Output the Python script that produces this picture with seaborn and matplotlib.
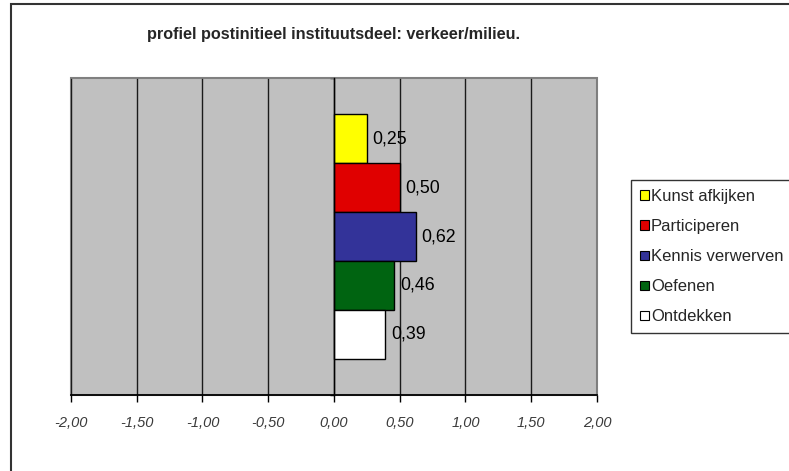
import matplotlib
matplotlib.use("Agg")
import matplotlib.pyplot as plt
from matplotlib.patches import Rectangle, Patch
import pandas as pd
import seaborn as sns

# Profiel-scores per leeractiviteit
reeksen = ["Kunst afkijken", "Participeren", "Kennis verwerven", "Oefenen", "Ontdekken"]
waarden = [0.25, 0.50, 0.62, 0.46, 0.39]
kleuren = ["#FFFF00", "#E00000", "#333399", "#006411", "#FFFFFF"]
x_ticks = [-2.0, -1.5, -1.0, -0.5, 0.0, 0.5, 1.0, 1.5, 2.0]
titel = "profiel postinitieel instituutsdeel: verkeer/milieu."

df = pd.DataFrame({"categorie": [""] * len(reeksen), "reeks": reeksen, "waarde": waarden})

sns.set_theme(style="white")
plt.rcParams["font.family"] = ["Liberation Sans", "DejaVu Sans"]

fig = plt.figure(figsize=(7.89, 4.71), dpi=100)
ax = fig.add_axes([71 / 789, 1 - 395 / 471, (597 - 71) / 789, (395 - 78) / 471])
ax.set_facecolor("#C0C0C0")

sns.barplot(data=df, x="waarde", y="categorie", hue="reeks", hue_order=reeksen,
            palette=dict(zip(reeksen, kleuren)), orient="h", dodge=True,
            width=0.77, edgecolor="black", linewidth=1.0, saturation=1,
            errorbar=None, ax=ax, zorder=3)

ax.set_xlim(-2, 2)
ax.set_ylim(0.5, -0.5)
ax.set_xticks(x_ticks)
ax.set_xticklabels([f"{t:.2f}".replace(".", ",") for t in x_ticks],
                   fontstyle="italic", fontsize=10.5, color="#3a3a3a")
ax.tick_params(axis="x", direction="out", length=5, width=1, color="black",
               bottom=True, pad=10)
ax.set_xlabel("")
ax.set_ylabel("")

# verticale rasterlijnen
for t in x_ticks:
    ax.axvline(t, color="#1a1a1a", lw=1, zorder=1)

# categorie-as op x = 0
ax.spines["left"].set_position(("data", 0))
ax.spines["left"].set_color("black")
ax.spines["left"].set_linewidth(1)
ax.spines["left"].set_zorder(4)
ax.set_yticks([-0.5, 0.5])
ax.set_yticklabels(["", ""])
ax.tick_params(axis="y", direction="out", length=3, width=1, color="black", left=True)
for s in ["top", "right"]:
    ax.spines[s].set_color("#808080")
ax.spines["bottom"].set_color("black")
ax.add_patch(Rectangle((0, 0), 1, 1, transform=ax.transAxes, fill=False,
                       edgecolor="#808080", lw=1.5, zorder=0.5, clip_on=False))

# waardelabels
for cont in ax.containers:
    ax.bar_label(cont, labels=[f"{v:.2f}".replace(".", ",") for v in cont.datavalues],
                 padding=4, fontsize=12.8, color="black")

# legenda
handles = [Patch(facecolor=c, edgecolor="black", linewidth=0.8) for c in kleuren]
ax.legend_.remove()
leg = fig.legend(handles, reeksen, loc="upper left",
                 bbox_to_anchor=(631 / 789, 1 - 180 / 471),
                 frameon=True, fancybox=False, edgecolor="black",
                 fontsize=12, handlelength=0.5, handleheight=0.5,
                 handletextpad=0.15, labelspacing=0.9, borderpad=0.55,
                 borderaxespad=0)
leg.get_frame().set_linewidth(1)

fig.text(334 / 789, 1 - 35 / 471, titel, ha="center", va="center",
         fontsize=11.7, fontweight="bold")

# kader rond de grafiek
fig.patches.append(Rectangle((11 / 789, -0.1), 1.2, 1.1 - 4 / 471,
                             transform=fig.transFigure, fill=False,
                             edgecolor="#333333", lw=1.5))

fig.savefig("out.png", dpi=100)
